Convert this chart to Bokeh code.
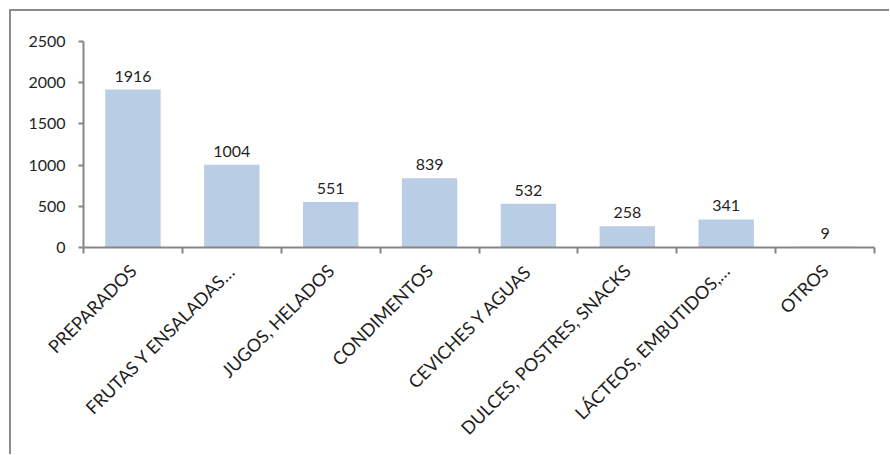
from math import pi
from bokeh.plotting import figure
from bokeh.models import Range1d, FixedTicker, LinearAxis, ColumnDataSource
from bokeh.embed import file_html
from bokeh.resources import INLINE
from bokeh.core.properties import value

categories = ["PREPARADOS", "FRUTAS Y ENSALADAS…", "JUGOS, HELADOS", "CONDIMENTOS",
              "CEVICHES Y AGUAS", "DULCES, POSTRES, SNACKS", "LÁCTEOS, EMBUTIDOS,…", "OTROS"]
values = [1916, 1004, 551, 839, 532, 258, 341, 9]
y_ticks = [0, 500, 1000, 1500, 2000, 2500]

FONT = "Lato"
TXT = "#1f1f1f"
AX = "#868686"

n = len(categories)
centers = [i + 0.5 for i in range(n)]
bounds = list(range(n + 1))
src = ColumnDataSource(dict(x=centers, top=values, label=[str(v) for v in values]))

p = figure(width=880, height=445, x_range=Range1d(0, n), y_range=Range1d(0, 2500),
           x_axis_type=None, y_axis_type=None, output_backend="svg", toolbar_location=None,
           min_border_left=72, min_border_top=30, min_border_right=17, min_border_bottom=209)
p.outline_line_color = None
p.background_fill_color = "white"
p.border_fill_color = "white"
p.margin = (9, 0, 0, 9)
p.styles = {"border-top": "2px solid #8c8c8c", "border-left": "2px solid #8c8c8c"}

p.vbar(x="x", top="top", width=0.56, bottom=0, source=src,
       fill_color="#B9CDE5", line_color=None)
p.text(x="x", y="top", text="label", source=src, text_align="center",
       text_baseline="bottom", y_offset=-8, text_font=value(FONT),
       text_font_size="16px", text_color=TXT)

yaxis = LinearAxis(ticker=FixedTicker(ticks=y_ticks))
yaxis.axis_line_color = AX
yaxis.axis_line_width = 2
yaxis.major_tick_line_color = AX
yaxis.major_tick_line_width = 2
yaxis.major_tick_in = 0
yaxis.major_tick_out = 5
yaxis.minor_tick_line_color = None
yaxis.major_label_text_font = FONT
yaxis.major_label_text_font_size = "16px"
yaxis.major_label_text_color = TXT
yaxis.major_label_standoff = 13
p.add_layout(yaxis, "left")

xaxis = LinearAxis(ticker=FixedTicker(ticks=centers, minor_ticks=bounds))
xaxis.axis_line_color = AX
xaxis.axis_line_width = 2
xaxis.major_tick_line_color = None
xaxis.minor_tick_line_color = AX
xaxis.minor_tick_line_width = 2
xaxis.minor_tick_in = 0
xaxis.minor_tick_out = 6
xaxis.major_label_overrides = {c: name for c, name in zip(centers, categories)}
xaxis.major_label_orientation = pi / 4
xaxis.major_label_text_font = FONT
xaxis.major_label_text_font_size = "18px"
xaxis.major_label_text_color = TXT
xaxis.major_label_standoff = 14
p.add_layout(xaxis, "below")

open("out.html", "w").write(file_html(p, INLINE))
